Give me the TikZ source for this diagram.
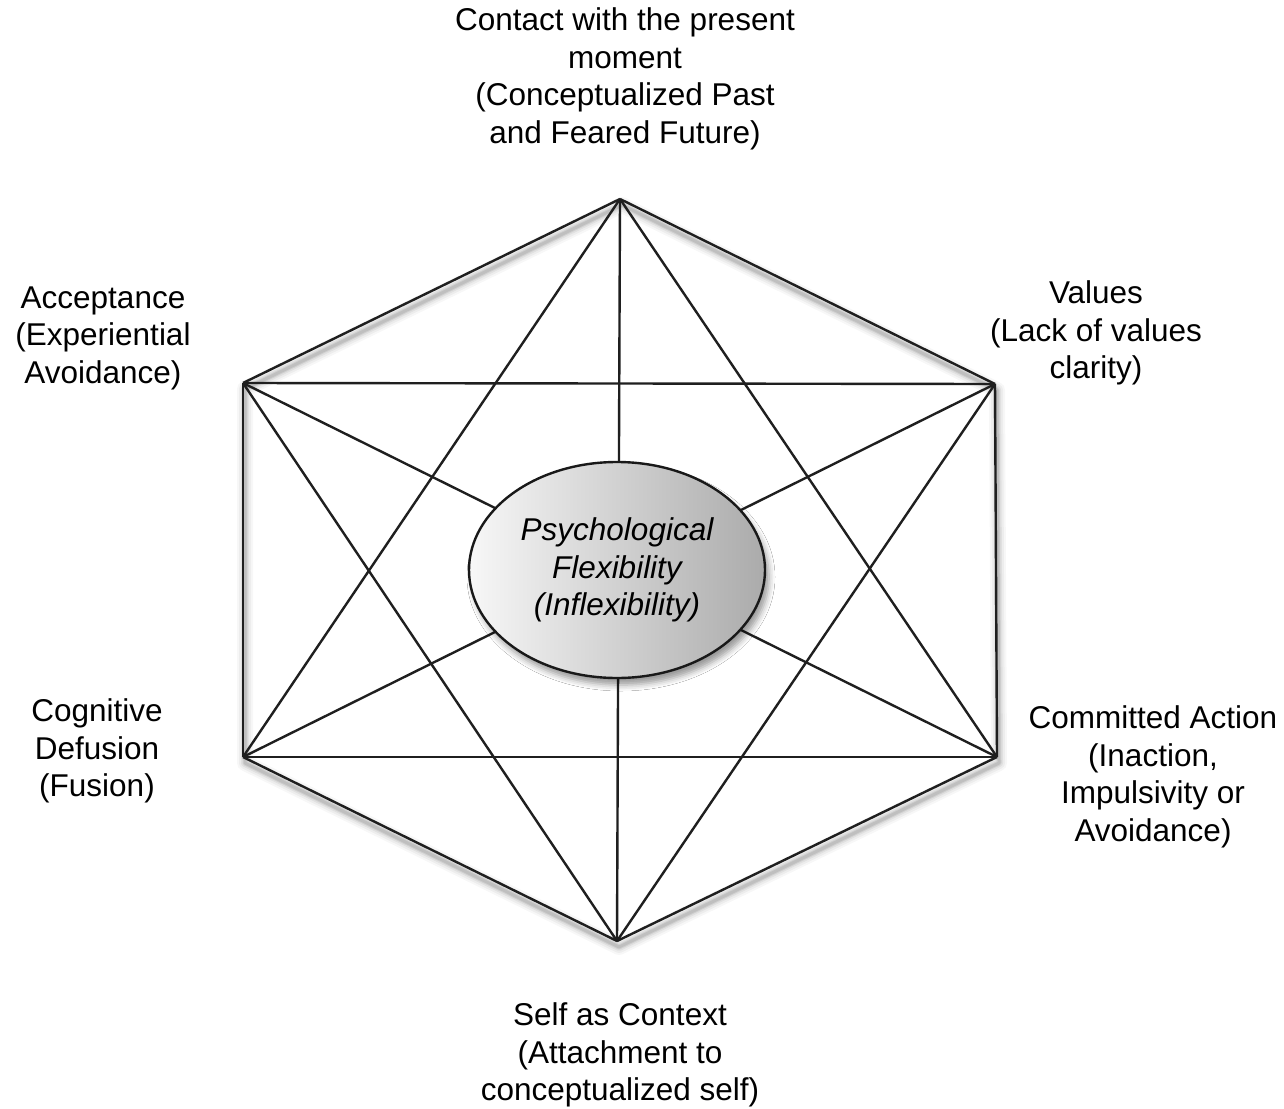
\documentclass[tikz,border=0pt]{standalone}
\usepackage{fontspec}
\setmainfont{Liberation Sans}
\usetikzlibrary{shapes.geometric,shadows.blur,calc}
\begin{document}
\begin{tikzpicture}[x=1pt,y=-1pt,
  edge/.style={line width=2.4pt, black!88},
  lbl/.style={align=center, font=\fontsize{31.5}{37.5}\selectfont, inner sep=0pt},
  core/.style={ellipse, draw=black!90, line width=2.4pt, minimum width=296pt, minimum height=216pt,
    inner sep=0pt, left color=black!3, right color=black!33, shading angle=90,
    blur shadow={shadow xshift=4pt, shadow yshift=-7pt, shadow blur radius=6pt, shadow opacity=40},
    align=center, font=\fontsize{31.5}{37.5}\selectfont\itshape}]
\useasboundingbox[fill=white] (0,0) rectangle (1284,1108);
\coordinate (T) at (620,199);
\coordinate (TR) at (995,384);
\coordinate (BR) at (997,757);
\coordinate (B) at (617,941);
\coordinate (BL) at (243,757);
\coordinate (TL) at (243,383);
% soft shadow of the outer hexagon
\foreach \w/\o in {16/0.03,12/0.04,8/0.05,5/0.07,3/0.08}{
  \draw[line width=\w pt, black, opacity=\o, line join=round]
    ($(T)+(2,6)$) -- ($(TR)+(2,6)$) -- ($(BR)+(2,6)$) -- ($(B)+(2,6)$) -- ($(BL)+(2,6)$) -- ($(TL)+(2,6)$) -- cycle;
}
% all connections between the six corners
\foreach \a/\b in {T/TR,T/BR,T/B,T/BL,T/TL,TR/BR,TR/B,TR/BL,TR/TL,BR/B,BR/BL,BR/TL,B/BL,B/TL,BL/TL}{
  \draw[edge] (\a) -- (\b);
}
\node[core] (pf) at (617,570) {Psychological\\Flexibility\\(Inflexibility)};
\node[lbl] (lT) at (625,79) {Contact with the present\\moment\\(Conceptualized Past\\and Feared Future)};
\node[lbl] (lTL) at (103,338) {Acceptance\\(Experiential\\Avoidance)};
\node[lbl] (lTR) at (1096,333) {Values\\(Lack of values\\clarity)};
\node[lbl] (lBL) at (97,751) {Cognitive\\Defusion\\(Fusion)};
\node[lbl] (lBR) at (1153,777) {Committed Action\\(Inaction,\\Impulsivity or\\Avoidance)};
\node[lbl] (lB) at (620,1055) {Self as Context\\(Attachment to\\conceptualized self)};
\end{tikzpicture}
\end{document}
